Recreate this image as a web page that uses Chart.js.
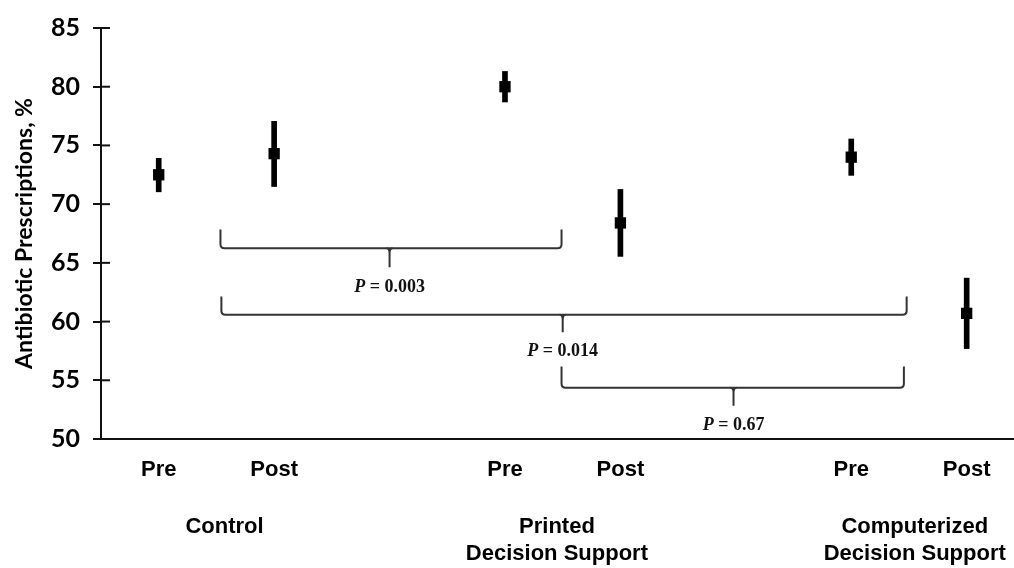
<!DOCTYPE html>
<html>
<head>
<meta charset="utf-8">
<script src="https://cdn.jsdelivr.net/npm/chart.js@4.4.1/dist/chart.umd.min.js"></script>
<style>
  html, body { margin: 0; padding: 0; background: #fff; }
  #wrap { width: 1014px; height: 568px; }
</style>
</head>
<body>
<div id="wrap"><canvas id="myChart"></canvas></div>
<script>
// pre/post positions along the x axis for each arm
var positions = [1, 2, 4, 5, 7, 8];
var phases = ['Pre', 'Post', 'Pre', 'Post', 'Pre', 'Post'];
var means = [72.5, 74.3, 80.0, 68.4, 74.0, 60.7];
var lower = [71.05, 71.5, 78.7, 65.55, 72.45, 57.7];
var upper = [73.9, 77.05, 81.3, 71.25, 75.55, 63.7];

var groupNames = ['Control', ['Printed', 'Decision Support'], ['Computerized', 'Decision Support']];
var groupPositions = [1.57, 4.45, 7.55];

var yTicks = [50, 55, 60, 65, 70, 75, 80, 85];

// comparison brackets (x in axis units, y in %)
var pValues = ['0.003', '0.014', '0.67'];
var bracketFrom = [1.535, 1.543, 4.49];
var bracketTo = [4.49, 7.48, 7.456];
var bracketMid = [3.0, 4.5, 5.98];
var bracketTop = [67.84, 62.14, 56.17];
var bracketLine = [66.25, 60.58, 54.37];
var bracketTip = [64.63, 59.08, 52.84];
var pLabelY = [62.9, 57.45, 51.16];

var extras = {
    id: 'extras',
    afterDatasetsDraw: function(chart) {
        var c = chart.ctx, x = chart.scales.x, y = chart.scales.y, area = chart.chartArea;
        c.save();
        // inner half of the y tick marks
        c.strokeStyle = '#111';
        c.lineWidth = 2;
        y.ticks.forEach(function(t) {
            var py = y.getPixelForValue(t.value);
            c.beginPath();
            c.moveTo(area.left, py);
            c.lineTo(area.left + 9, py);
            c.stroke();
        });
        // brackets with P values
        c.strokeStyle = '#333';
        c.lineWidth = 2;
        for (var i = 0; i < pValues.length; i++) {
            var x0 = x.getPixelForValue(bracketFrom[i]);
            var x1 = x.getPixelForValue(bracketTo[i]);
            var xm = x.getPixelForValue(bracketMid[i]);
            var yt = y.getPixelForValue(bracketTop[i]);
            var yl = y.getPixelForValue(bracketLine[i]);
            var yb = y.getPixelForValue(bracketTip[i]);
            c.beginPath();
            c.moveTo(x0, yt);
            c.lineTo(x0, yl - 4);
            c.quadraticCurveTo(x0, yl, x0 + 4, yl);
            c.lineTo(x1 - 4, yl);
            c.quadraticCurveTo(x1, yl, x1, yl - 4);
            c.lineTo(x1, yt);
            c.stroke();
            c.beginPath();
            c.moveTo(xm - 3, yl);
            c.quadraticCurveTo(xm, yl, xm, yl + 5);
            c.lineTo(xm, yb);
            c.moveTo(xm + 3, yl);
            c.quadraticCurveTo(xm, yl, xm, yl + 5);
            c.stroke();

            var py = y.getPixelForValue(pLabelY[i]);
            var italic = 'italic bold 18px "Liberation Serif"';
            var plain = 'bold 18px "Liberation Serif"';
            var rest = ' = ' + pValues[i];
            c.font = italic;
            var w1 = c.measureText('P').width;
            c.font = plain;
            var w2 = c.measureText(rest).width;
            var sx = xm - (w1 + w2) / 2;
            c.fillStyle = '#111';
            c.textBaseline = 'middle';
            c.textAlign = 'left';
            c.font = italic;
            c.fillText('P', sx, py);
            c.font = plain;
            c.fillText(rest, sx + w1, py);
        }
        c.restore();
    }
};

var ctx = document.getElementById('myChart').getContext('2d');
var chart = new Chart(ctx, {
    type: 'bar',
    data: {
        datasets: [{
            type: 'scatter',
            data: positions.map(function(p, i) { return {x: p, y: means[i]}; }),
            pointStyle: 'rect',
            radius: 8,
            backgroundColor: '#000',
            borderWidth: 0,
            order: 0
        }, {
            type: 'bar',
            data: positions.map(function(p, i) { return {x: p, y: [lower[i], upper[i]]}; }),
            backgroundColor: '#000',
            barThickness: 5,
            order: 1
        }]
    },
    options: {
        responsive: true,
        maintainAspectRatio: false,
        animation: false,
        layout: { autoPadding: false, padding: { top: 21, right: 0, bottom: 0, left: 0 } },
        plugins: { legend: { display: false }, tooltip: { enabled: false } },
        scales: {
            x: {
                type: 'linear',
                position: 'bottom',
                min: 0.5,
                max: 8.41,
                offset: false,
                grid: { display: false, drawTicks: false },
                border: { display: true, color: '#111', width: 2 },
                afterBuildTicks: function(axis) {
                    axis.ticks = positions.map(function(v) { return {value: v}; });
                },
                afterFit: function(axis) {
                    axis.height = 74;
                    axis.paddingLeft = 0;
                    axis.paddingRight = 0;
                },
                ticks: {
                    autoSkip: false,
                    maxRotation: 0,
                    padding: 18,
                    color: '#000',
                    font: { family: '"Liberation Sans"', size: 22, weight: 'bold' },
                    callback: function(v, i) { return phases[i]; }
                }
            },
            x2: {
                type: 'linear',
                axis: 'x',
                position: 'bottom',
                min: 0.5,
                max: 8.41,
                offset: false,
                grid: { display: false, drawTicks: false },
                border: { display: false },
                afterBuildTicks: function(axis) {
                    axis.ticks = groupPositions.map(function(v) { return {value: v}; });
                },
                afterFit: function(axis) {
                    axis.height = 55;
                    axis.paddingLeft = 0;
                    axis.paddingRight = 0;
                },
                ticks: {
                    autoSkip: false,
                    maxRotation: 0,
                    padding: 0,
                    color: '#000',
                    font: { family: '"Liberation Sans"', size: 22, weight: 'bold', lineHeight: 1.25 },
                    callback: function(v, i) { return groupNames[i]; }
                }
            },
            y: {
                min: 50,
                max: 85,
                grid: { display: true, drawOnChartArea: false, drawTicks: true, tickLength: 8, color: '#111', lineWidth: 2 },
                border: { display: true, color: '#111', width: 2 },
                afterBuildTicks: function(axis) {
                    axis.ticks = yTicks.map(function(v) { return {value: v}; });
                },
                afterFit: function(axis) { axis.width = 101; },
                ticks: {
                    padding: 13,
                    color: '#000',
                    font: { family: 'Lato', size: 25, weight: 'bold' }
                },
                title: {
                    display: true,
                    text: 'Antibiotic Prescriptions, %',
                    color: '#000',
                    font: { family: 'Lato', size: 23, weight: 'bold' },
                    padding: { top: 11, bottom: 0 }
                }
            }
        }
    },
    plugins: [extras]
});
</script>
</body>
</html>
